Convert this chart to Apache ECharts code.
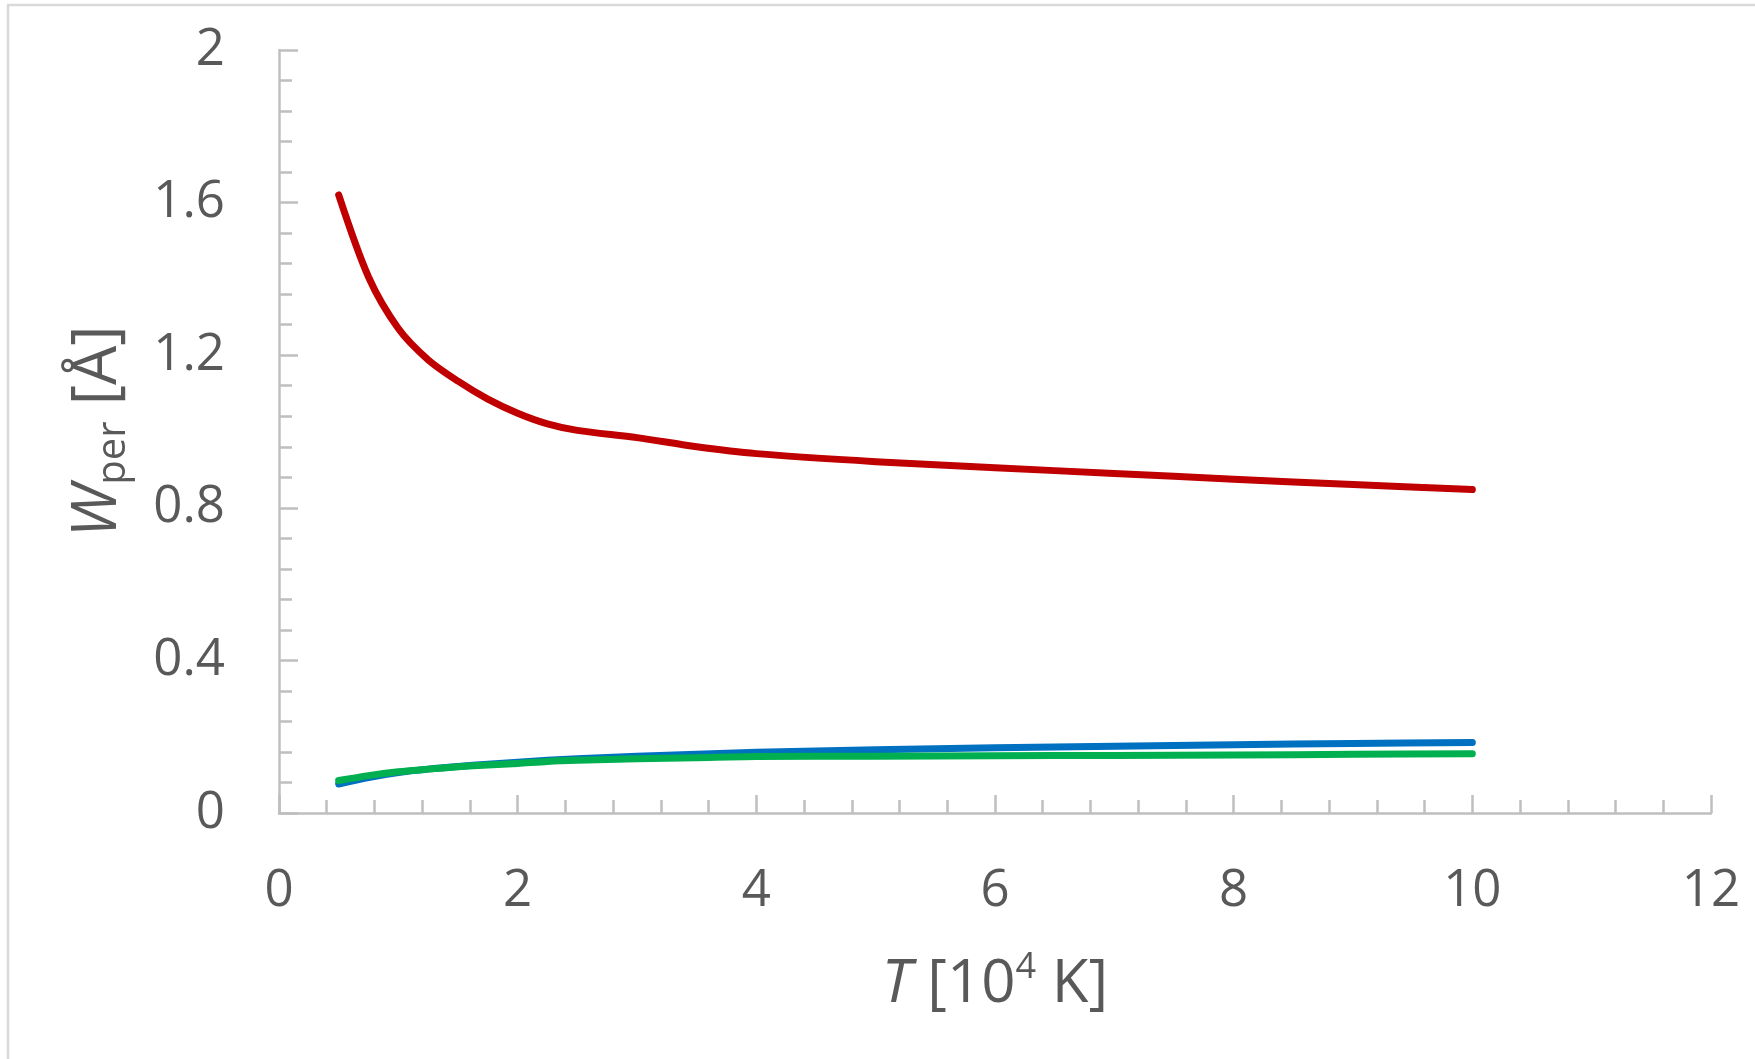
<!DOCTYPE html>
<html>
<head>
<meta charset="utf-8">
<script src="https://cdn.jsdelivr.net/npm/echarts@6/dist/echarts.min.js"></script>
<style>
html,body{margin:0;padding:0;background:#fff;}
#chart{width:1755px;height:1059px;}
</style>
</head>
<body>
<div id="chart"></div>
<script>
// Temperature T [10^4 K]
const T = [0.5, 0.75, 1.0, 1.25, 1.5, 1.75, 2.0, 2.25, 2.5, 3, 3.5, 4, 5, 6, 7, 8, 9, 10];
// W_per [Å]
const redW   = [1.62, 1.405, 1.27, 1.188, 1.132, 1.085, 1.048, 1.02, 1.003, 0.984, 0.960, 0.942, 0.921, 0.905, 0.890, 0.875, 0.861, 0.848];
const blueW  = [0.076, 0.093, 0.106, 0.115, 0.122, 0.128, 0.133, 0.138, 0.142, 0.149, 0.154, 0.159, 0.166, 0.171, 0.175, 0.179, 0.182, 0.185];
const greenW = [0.085, 0.098, 0.108, 0.115, 0.121, 0.126, 0.130, 0.135, 0.138, 0.142, 0.145, 0.148, 0.149, 0.150, 0.151, 0.152, 0.154, 0.155];

const xTicks = {min: 0, max: 12, interval: 2};
const yTicks = {min: 0, max: 2, interval: 0.4};

const pair = (xs, ys) => xs.map((x, i) => [x, ys[i]]);

const FONT = '"Open Sans", "Noto Sans", sans-serif';
const TXT = '#595959';
const AX = '#bfbfbf';

const chart = echarts.init(document.getElementById('chart'), null, {renderer: 'canvas'});
const lineSeries = (data, color) => ({
  type: 'line',
  data: data,
  smooth: 0.3,
  showSymbol: false,
  symbol: 'none',
  lineStyle: {color: color, width: 7, cap: 'round', join: 'round'},
  itemStyle: {color: color},
  emphasis: {disabled: true},
  animation: false
});

chart.setOption({
  animation: false,
  backgroundColor: '#ffffff',
  graphic: [{
    type: 'rect',
    shape: {x: 8, y: 5, width: 1760, height: 1070},
    style: {fill: 'none', stroke: '#d9d9d9', lineWidth: 2.5},
    silent: true,
    z: -10
  }],
  grid: {left: 279, right: 44, top: 50, bottom: 246},
  xAxis: {
    type: 'value',
    min: xTicks.min, max: xTicks.max, interval: xTicks.interval,
    axisLine: {show: true, lineStyle: {color: AX, width: 2.5}},
    axisTick: {show: true, inside: true, length: 18, lineStyle: {color: AX, width: 2.5}},
    minorTick: {show: true, splitNumber: 5, length: 13, lineStyle: {color: AX, width: 2.5}},
    splitLine: {show: false},
    axisLabel: {color: TXT, fontFamily: FONT, fontSize: 51, margin: 53},
    name: '{i|T} {n|[10}{sup|4}{n| K]}',
    nameLocation: 'middle',
    nameGap: 137,
    nameTextStyle: {
      color: TXT, fontFamily: FONT, fontSize: 60,
      rich: {
        i: {fontStyle: 'italic', fontSize: 60, color: TXT, fontFamily: FONT, lineHeight: 70},
        n: {fontSize: 60, color: TXT, fontFamily: FONT, lineHeight: 70},
        sup: {fontSize: 36, color: TXT, fontFamily: FONT, verticalAlign: 'top', lineHeight: 40}
      }
    }
  },
  yAxis: {
    type: 'value',
    min: yTicks.min, max: yTicks.max, interval: yTicks.interval,
    axisLine: {show: true, lineStyle: {color: AX, width: 2.5}},
    axisTick: {show: true, inside: true, length: 19, lineStyle: {color: AX, width: 2.5}},
    minorTick: {show: true, splitNumber: 5, length: 13, lineStyle: {color: AX, width: 2.5}},
    splitLine: {show: false},
    axisLabel: {color: TXT, fontFamily: FONT, fontSize: 51, margin: 54},
    name: '{i|W}{sub|per}{n| [Å]}',
    nameLocation: 'middle',
    nameRotate: 90,
    nameGap: 145,
    nameTextStyle: {
      color: TXT, fontFamily: FONT, fontSize: 60,
      rich: {
        i: {fontStyle: 'italic', fontSize: 62, color: TXT, fontFamily: FONT, lineHeight: 72},
        n: {fontSize: 62, color: TXT, fontFamily: FONT, lineHeight: 72},
        sub: {fontSize: 40, color: TXT, fontFamily: FONT, verticalAlign: 'bottom', lineHeight: 40}
      }
    }
  },
  series: [
    lineSeries(pair(T, redW), '#C00000'),
    lineSeries(pair(T, blueW), '#0070C0'),
    lineSeries(pair(T, greenW), '#00B050')
  ]
});
</script>
</body>
</html>
